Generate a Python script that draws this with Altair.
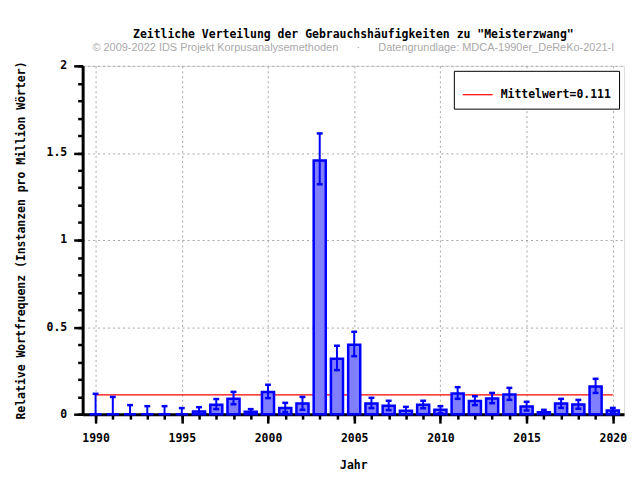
import altair as alt
import pandas as pd

years = list(range(1990, 2021))
values = [0, 0, 0, 0, 0, 0, 0.015, 0.054, 0.088, 0.014, 0.128, 0.036, 0.061, 1.456, 0.318, 0.398,
          0.061, 0.048, 0.019, 0.054, 0.025, 0.119, 0.075, 0.090, 0.113, 0.044, 0.011, 0.061, 0.055, 0.159, 0.021]
upper = [0.117, 0.099, 0.052, 0.046, 0.046, 0.035, 0.040, 0.087, 0.128, 0.029, 0.169, 0.065, 0.099, 1.612, 0.393, 0.473,
         0.094, 0.077, 0.042, 0.077, 0.046, 0.155, 0.103, 0.122, 0.151, 0.071, 0.025, 0.088, 0.082, 0.203, 0.036]
lower = [0, 0, 0, 0, 0, 0, 0, 0.029, 0.057, 0, 0.092, 0.012, 0.025, 1.320, 0.253, 0.333,
         0.035, 0.023, 0, 0.034, 0.005, 0.088, 0.052, 0.063, 0.082, 0.021, 0, 0.036, 0.031, 0.122, 0.010]
mean_value = 0.111
mean_label = "Mittelwert=0.111"
major_x = list(range(1990, 2021, 5))
minor_x = list(range(1990, 2021))
major_y = [0, 0.5, 1, 1.5, 2]
minor_y = [round(i * 0.1, 1) for i in range(21)]

df = pd.DataFrame({"year": years, "value": values, "upper": upper, "lower": lower})
mean_df = pd.DataFrame({"start": [years[0]], "end": [years[-1]], "m": [mean_value], "label": [mean_label]})

MONO = "DejaVu Sans Mono"
FS = 11.5
XDOM = [1989.25, 2020.65]
YDOM = [0, 2]

xs = alt.Scale(domain=XDOM, nice=False, zero=False)
ys = alt.Scale(domain=YDOM, nice=False)

mean_line = alt.Chart(mean_df).mark_rule(strokeWidth=1.2).encode(
    x=alt.X("start:Q", scale=xs, axis=None),
    x2="end:Q",
    y=alt.Y("m:Q", scale=ys, axis=None),
    color=alt.Color("label:N", scale=alt.Scale(domain=[mean_label], range=["#ff0000"]),
                    legend=alt.Legend(title=None, orient="top-right", offset=5,
                                      symbolType="stroke", symbolSize=900,
                                      symbolStrokeWidth=1.2, strokeColor="black",
                                      fillColor="white", padding=8, labelOffset=7,
                                      labelFont=MONO, labelFontSize=FS, labelFontWeight="bold",
                                      labelColor="black")),
)

major_axis_x = alt.Axis(values=major_x, tickSize=9, tickWidth=2.5, tickColor="black",
                        domainColor="black", domainWidth=3, grid=True, gridDash=[2, 3],
                        gridColor="#a6a6a6", gridWidth=1, labelFont=MONO, labelFontSize=FS,
                        labelFontWeight="bold", labelColor="black", labelPadding=9,
                        title="Jahr", titleFont=MONO, titleFontSize=FS, titleFontWeight="bold",
                        titleColor="black", titlePadding=16, format="d", labelFlush=False, orient="bottom")
major_axis_y = alt.Axis(values=major_y, tickSize=9, tickWidth=2.5, tickColor="black",
                        domainColor="black", domainWidth=3, grid=True, gridDash=[2, 3],
                        gridColor="#a6a6a6", gridWidth=1, labelFont=MONO, labelFontSize=FS,
                        labelFontWeight="bold", labelColor="black", labelPadding=7,
                        title="Relative Wortfrequenz (Instanzen pro Million Wörter)",
                        titleFont=MONO, titleFontSize=FS, titleFontWeight="bold",
                        titleColor="black", titlePadding=20, format=".1~f", labelFlush=False, orient="left")

bars = alt.Chart(df).transform_calculate(
    x0="datum.year - 0.35", x1="datum.year + 0.35"
).mark_rect(fill="#8080ff", stroke="#0000ff", strokeWidth=2.5).encode(
    x=alt.X("x0:Q", scale=xs, axis=major_axis_x),
    x2="x1:Q",
    y=alt.Y("value:Q", scale=ys, axis=major_axis_y),
    y2=alt.Y2(datum=0),
)

err = alt.Chart(df).mark_rule(color="#0000ff", strokeWidth=2).encode(
    x=alt.X("year:Q", scale=xs, axis=None),
    y=alt.Y("lower:Q", scale=ys, axis=None),
    y2="upper:Q",
)

cap_top = alt.Chart(df).transform_calculate(
    c0="datum.year - 0.17", c1="datum.year + 0.17"
).mark_rule(color="#0000ff", strokeWidth=2.5).encode(
    x=alt.X("c0:Q", scale=xs, axis=None),
    x2="c1:Q",
    y=alt.Y("upper:Q", scale=ys, axis=None),
)

cap_bot = alt.Chart(df).transform_filter("datum.lower > 0").transform_calculate(
    c0="datum.year - 0.17", c1="datum.year + 0.17"
).mark_rule(color="#0000ff", strokeWidth=2.5).encode(
    x=alt.X("c0:Q", scale=xs, axis=None),
    x2="c1:Q",
    y=alt.Y("lower:Q", scale=ys, axis=None),
)

minor_x_df = pd.DataFrame({"mx": minor_x})
minor_y_df = pd.DataFrame({"my": minor_y})
minor_xl = alt.Chart(minor_x_df).mark_point(opacity=0).encode(
    x=alt.X("mx:Q", scale=xs, axis=alt.Axis(values=minor_x, tickSize=5, tickWidth=2.5, tickColor="black",
                                               labels=False, domain=False, grid=False, title=None,
                                               orient="bottom")),
)
minor_yl = alt.Chart(minor_y_df).mark_point(opacity=0).encode(
    y=alt.Y("my:Q", scale=ys, axis=alt.Axis(values=minor_y, tickSize=5, tickWidth=2.5, tickColor="black",
                                               labels=False, domain=False, grid=False, title=None,
                                               orient="left")),
)

chart = alt.layer(mean_line, bars, err, cap_top, cap_bot, minor_xl, minor_yl).resolve_axis(
    x="independent", y="independent"
).properties(
    width=544, height=350,
    padding={"left": 7, "top": 20, "right": 5, "bottom": 5},
    title=alt.TitleParams(
        text='Zeitliche Verteilung der Gebrauchshäufigkeiten zu "Meisterzwang"',
        subtitle="© 2009-2022 IDS Projekt Korpusanalysemethoden" + "\u00a0" * 6 + "·" + "\u00a0" * 6
                 + "Datengrundlage: MDCA-1990er_DeReKo-2021-I",
        font=MONO, fontSize=FS, fontWeight="bold", color="black",
        subtitleFont="Liberation Sans", subtitleFontSize=11, subtitleColor="#aaaaaa",
        subtitlePadding=1.5, anchor="middle", offset=6.5,
    ),
).configure_view(stroke="black", strokeWidth=3).configure(background="white")

chart.save("out.html", embed_options={"renderer": "svg", "actions": False})
